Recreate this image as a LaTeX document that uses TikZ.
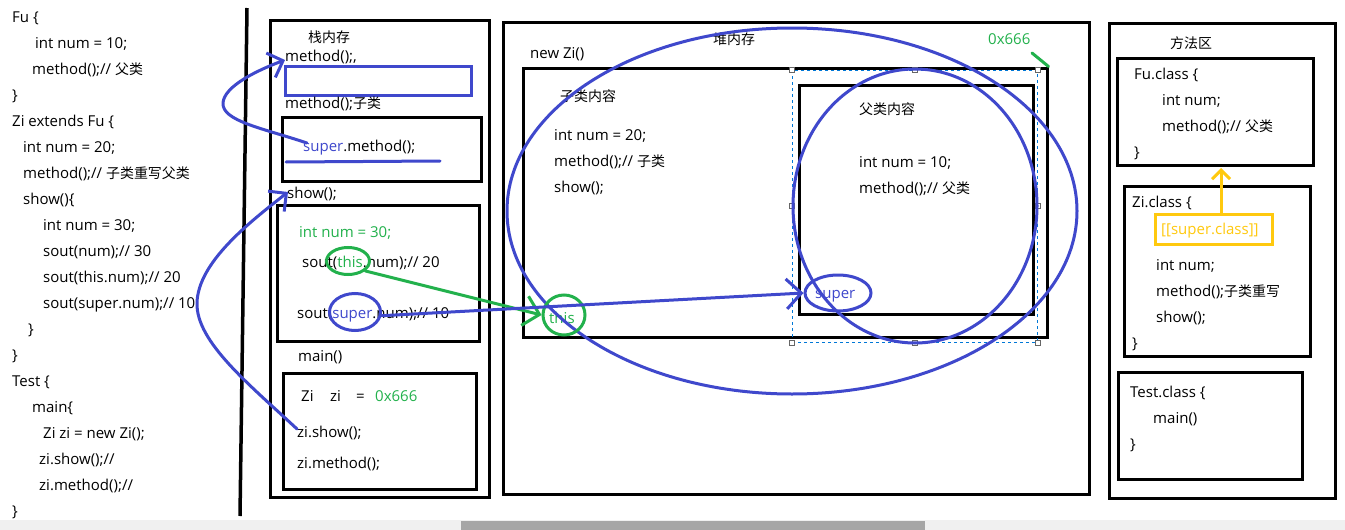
\documentclass[tikz,border=0pt]{standalone}
\usepackage{fontspec}
\setmainfont{Open Sans}
\newfontfamily\cjk{Noto Sans CJK SC}[Scale=0.93]
\usetikzlibrary{arrows.meta,fit,shapes.geometric}
\definecolor{pblue}{RGB}{63,72,204}
\definecolor{pgreen}{RGB}{34,177,76}
\definecolor{pyellow}{RGB}{255,201,14}
\definecolor{tgreen}{RGB}{34,177,76}
\definecolor{selblue}{RGB}{0,120,215}
\definecolor{scrollbg}{RGB}{240,240,240}
\definecolor{thumbc}{RGB}{166,166,166}
\newcommand{\zh}[1]{{\cjk #1}}
\begin{document}
\begin{tikzpicture}[x=1pt,y=-1pt,
  txt/.style={anchor=west,inner sep=0pt,text height=10pt,text depth=0pt,font=\fontsize{15}{17}\selectfont},
  box/.style={draw=black,line width=3pt,inner sep=0pt},
  ell/.style={draw=#1,line width=3pt,ellipse,inner sep=0pt},
  bl/.style={draw=pblue,line width=3pt,line cap=round,line join=round},
  gr/.style={draw=pgreen,line width=3pt,line cap=round},
  barb/.style={-{Straight Barb[length=#1,width=2*#1]}},
  handle/.style={draw=black!60,fill=white,line width=0.7pt,minimum size=5pt,inner sep=0pt}]
\useasboundingbox (0,0) rectangle (1345,530);
\fill[white] (0,0) rectangle (1345,530);
% scrollbar
\fill[scrollbg] (0,520) rectangle (1345,530);
\fill[thumbc] (461,521) rectangle (925,530);

% ---------- left code ----------
\node[txt] (L1) at (12,17) {Fu \{};
\node[txt] (L2) at (35,43) {int num = 10;};
\node[txt] (L3) at (32,69) {method();// \zh{父类}};
\node[txt] (L4) at (12,95) {\}};
\node[txt] (L5) at (12,121) {Zi extends Fu \{};
\node[txt] (L6) at (23,147) {int num = 20;};
\node[txt] (L7) at (23,173) {method();// \zh{子类重写父类}};
\node[txt] (L8) at (23,199) {show()\{};
\node[txt] (L9) at (43,225) {int num = 30;};
\node[txt] (L10) at (43,251) {sout(num);// 30};
\node[txt] (L11) at (43,277) {sout(this.num);// 20};
\node[txt] (L12) at (43,303) {sout(super.num);// 10};
\node[txt] (L13) at (28,329) {\}};
\node[txt] (L14) at (12,355) {\}};
\node[txt] (L15) at (12,381) {Test \{};
\node[txt] (L16) at (32,407) {main\{};
\node[txt] (L17) at (43,433) {Zi zi = new Zi();};
\node[txt] (L18) at (39,459) {zi.show();//};
\node[txt] (L19) at (39,485) {zi.method();//};
\node[txt] (L20) at (12,511) {\}};
\coordinate (v1) at (247,8);
\coordinate (v2) at (240,516);
\draw[line width=3.5pt] (v1) -- (v2);

% ---------- stack ----------
\node[box,fit={(270,20)(489,497)}] (stack) {};
\node[txt] (s0) at (308,37) {\zh{栈内存}};
\node[txt] (s1) at (285,56) {method();,};
\node[draw=pblue,line width=3pt,inner sep=0pt,fit={(285,66)(471,95)}] (frame1) {};
\node[txt] (s2) at (285,103) {method();\zh{子类}};
\node[box,fit={(282,117)(481,181)}] (frame2) {};
\node[txt] (s3) at (303,146) {\textcolor{pblue}{super}.method();};
\coordinate (u1) at (286,162);
\coordinate (u2) at (440,161);
\draw[bl] (u1) -- (u2);
\node[txt] (s4) at (287,193) {show();};
\node[box,fit={(277,205)(479,341)}] (frame3) {};
\node[txt,text=tgreen] (s5) at (299,232) {int num = 30;};
\node[txt] (s6) at (302,262) {sout(\textcolor{tgreen}{this}.num);// 20};
\node[txt] (s7) at (297,313) {sout(\textcolor{pblue}{super}.num);// 10};
\node[txt] (s8) at (298,356) {main()};
\node[box,fit={(283,373)(476,489)}] (frame4) {};
\node[txt] (s9) at (301,396) {Zi};
\node[txt] (s10) at (330,396) {zi};
\node[txt] (s11) at (356,396) {=};
\node[txt,text=tgreen] (s12) at (375,396) {0x666};
\node[txt] (s13) at (297,432) {zi.show();};
\node[txt] (s14) at (297,463) {zi.method();};
\node[ell=pgreen,minimum width=43pt,minimum height=27pt] (thisE) at (348,261) {};
\node[ell=pblue,minimum width=51pt,minimum height=37pt] (superE) at (355,312) {};

% ---------- heap ----------
\node[box,fit={(503,22)(1089,494)}] (heap) {};
\node[txt] (h0) at (713,40) {\zh{堆内存}};
\node[txt] (h1) at (530,53) {new Zi()};
\node[txt,text=tgreen] (h2) at (988,40) {0x666};
\node[box,fit={(523,68)(1047,337)}] (ziobj) {};
\node[txt] (h3) at (560,96) {\zh{子类内容}};
\node[txt] (h4) at (554,135) {int num = 20;};
\node[txt] (h5) at (554,161) {method();// \zh{子类}};
\node[txt] (h6) at (554,187) {show();};
\node[box,fit={(799,85)(1033,314)}] (fuobj) {};
\node[txt] (h7) at (859,109) {\zh{父类内容}};
\node[txt] (h8) at (859,162) {int num = 10;};
\node[txt] (h9) at (859,188) {method();// \zh{父类}};
\node[txt,text=pblue] (h10) at (815,293) {super};
\node[txt,text=tgreen] (h11) at (549,318) {this};
\node[draw=selblue,dashed,line width=0.8pt,inner sep=0pt,fit={(792,70)(1037,342)}] (sel) {};
\foreach \a/\n in {north west/a,north/b,north east/c,east/d,south east/e,south/f,south west/g,west/h}
  \node[handle] (hd\n) at (sel.\a) {};
\node[ell=pblue,minimum width=570pt,minimum height=366pt] (bigE) at (792,211) {};
\node[ell=pblue,minimum width=244pt,minimum height=274pt] (fuE) at (915,206) {};
\node[ell=pblue,minimum width=66pt,minimum height=36pt] (superH) at (838,293) {};
\node[ell=pgreen,minimum width=42pt,minimum height=40pt] (thisC) at (564,315) {};
\coordinate (g1) at (1032,53);
\draw[gr] (g1) -- (ziobj.north east);

% ---------- method area ----------
\node[box,fit={(1109,23)(1335,498)}] (marea) {};
\node[txt] (m0) at (1170,43) {\zh{方法区}};
\node[box,fit={(1117,58)(1313,165)}] (fucls) {};
\node[txt] (m1) at (1134,74) {Fu.class \{};
\node[txt] (m2) at (1162,100) {int num;};
\node[txt] (m3) at (1162,126) {method();// \zh{父类}};
\node[txt] (m4) at (1134,152) {\}};
\node[box,fit={(1124,186)(1310,356)}] (zicls) {};
\node[txt] (m5) at (1132,202) {Zi.class \{};
\node[draw=pyellow,line width=3pt,inner sep=0pt,fit={(1155,214)(1272,244)}] (supbox) {};
\node[txt,text=pyellow] (m6) at (1161,229) {[[super.class]]};
\node[txt] (m7) at (1156,265) {int num;};
\node[txt] (m8) at (1156,291) {method();\zh{子类重写}};
\node[txt] (m9) at (1156,317) {show();};
\node[txt] (m10) at (1132,343) {\}};
\node[box,fit={(1118,372)(1302,479)}] (testcls) {};
\node[txt] (m11) at (1130,392) {Test.class \{};
\node[txt] (m12) at (1153,418) {main()};
\node[txt] (m13) at (1130,444) {\}};
\coordinate (y1) at (1221,213);
\coordinate (y2) at (1221,168);
\draw[draw=pyellow,line width=3pt,line cap=round,barb=9pt] (y1) -- (y2);

% ---------- connectors ----------
\coordinate (k1) at (223,103);
\coordinate (k2) at (197,303);
\coordinate (t1) at (285,60);
\coordinate (t2) at (288,192);
\coordinate (st1) at (307,143);
\coordinate (st2) at (297,429);
\draw[bl,barb=13pt] (st1) .. controls (262,128) and (222,121) .. (k1)
   .. controls (224,86) and (258,70) .. (t1);
\draw[bl,barb=13pt] (st2) .. controls (250,385) and (196,342) .. (k2)
   .. controls (198,262) and (250,222) .. (t2);
\draw[gr,barb=15pt] (thisE.-30) -- (thisC.west);
\draw[bl,barb=15pt] (superE.-8) -- (superH.west);
\end{tikzpicture}
\end{document}
